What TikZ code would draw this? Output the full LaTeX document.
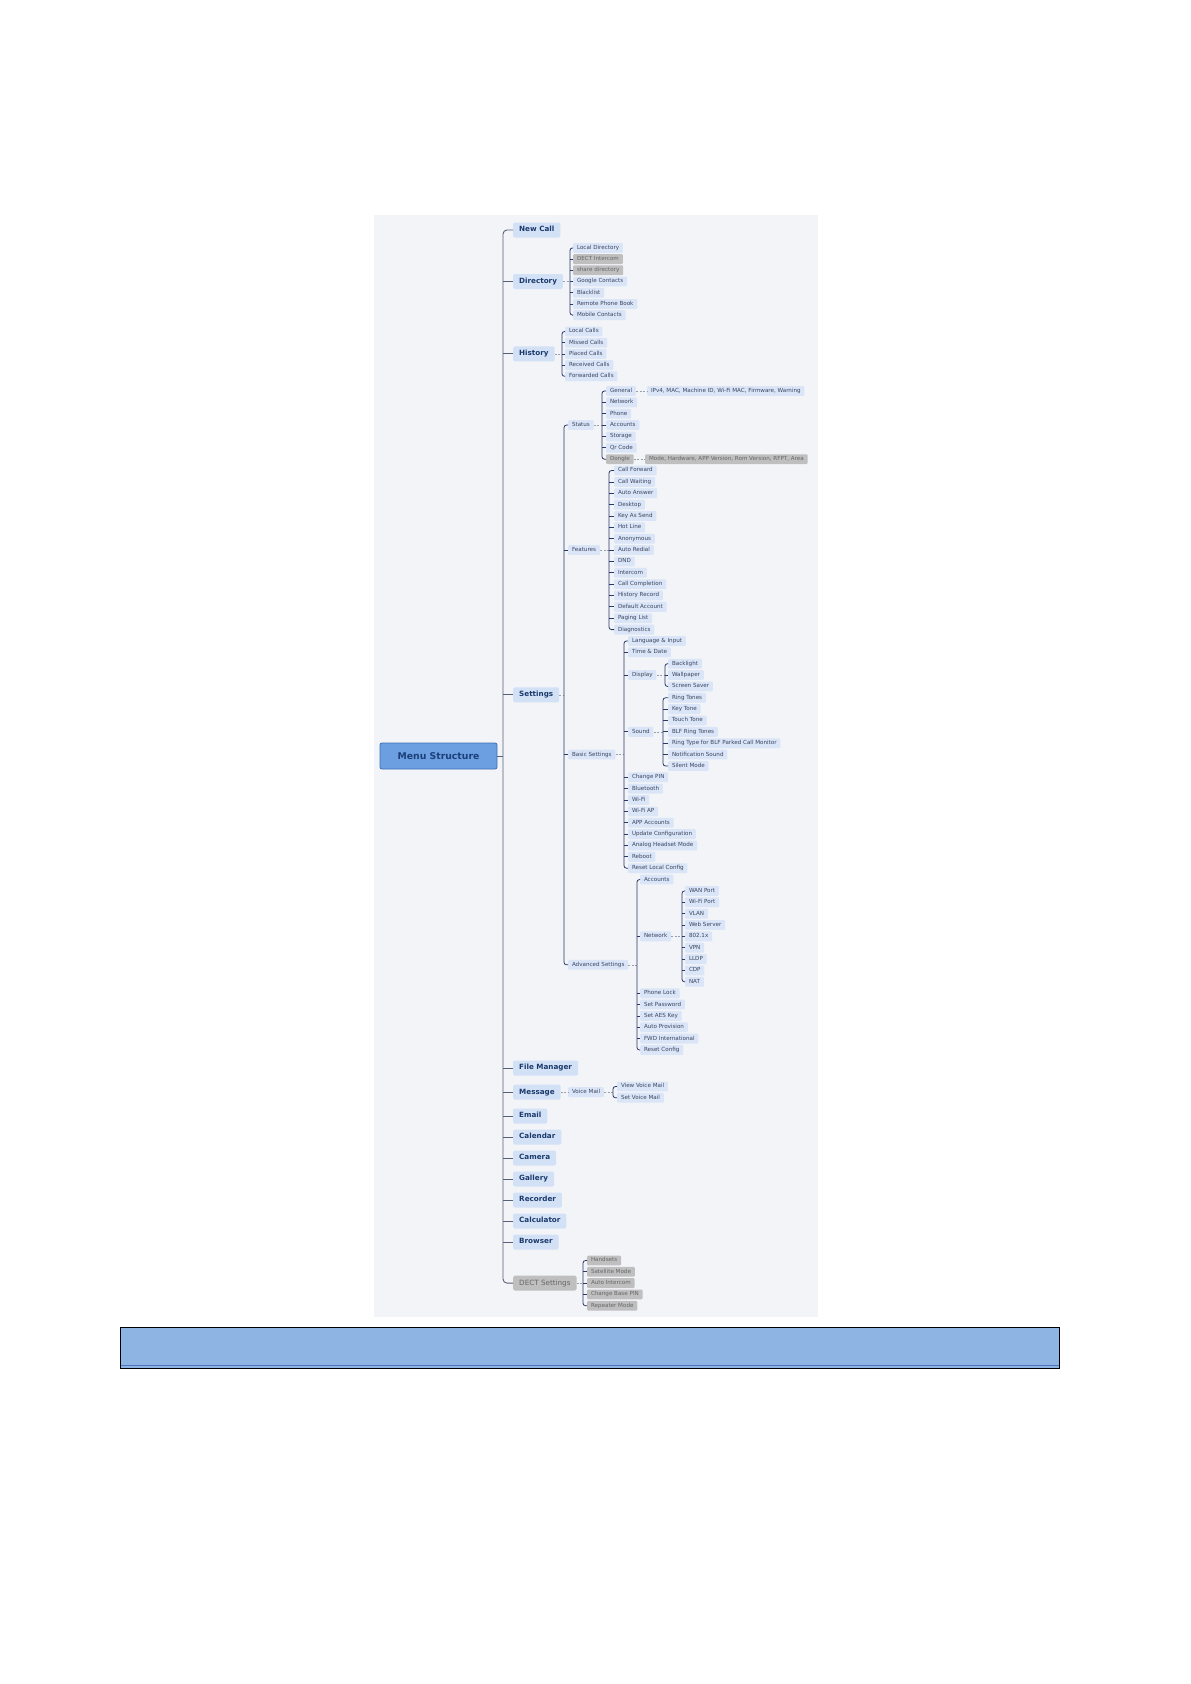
\documentclass[tikz,border=0pt]{standalone}
\usepackage{fontspec}
\setmainfont{DejaVu Sans}
\definecolor{panel}{HTML}{F2F4F8}
\definecolor{l1fill}{HTML}{D3E1F7}
\definecolor{l1text}{HTML}{1B3A6B}
\definecolor{l2fill}{HTML}{DAE5F8}
\definecolor{l2text}{HTML}{3A4560}
\definecolor{grfill}{HTML}{BFBFBF}
\definecolor{grtext}{HTML}{666666}
\definecolor{spinec}{HTML}{566078}
\definecolor{brkc}{HTML}{2B3768}
\definecolor{dashcol}{HTML}{98A0B0}
\definecolor{menufill}{HTML}{6B9FE2}
\definecolor{menudraw}{HTML}{3D6DB3}
\definecolor{menutext}{HTML}{1C3F78}
\definecolor{barfill}{HTML}{8DB4E2}
\definecolor{barline}{HTML}{4F75C0}
\newcommand{\R}[1]{379.638+11.362*#1}
% parent, bracket coordinate, first child, last child, middle children
\newcommand{\kids}[5]{%
  \draw[dashc] (#1.east) -- (#1.east -| #2);
  \draw[brk, rounded corners=2.5pt] (#3.west) -- (#3.west -| #2) -- (#4.west -| #2) -- (#4.west);
  \foreach \c in {#5} {\draw[brk] (\c.west -| #2) -- (\c.west);}
}
\begin{document}
\begin{tikzpicture}[x=1pt,y=-1pt,
  l1/.style={anchor=west, fill=l1fill, text=l1text, font=\fontsize{7.2}{8}\selectfont\bfseries, inner xsep=6pt, inner ysep=0pt, minimum height=15pt, text height=5.3pt, text depth=1.5pt, rounded corners=1.5pt},
  l1g/.style={l1, fill=grfill, text=grtext, font=\fontsize{7.2}{8}\selectfont},
  l2/.style={anchor=west, fill=l2fill, text=l2text, font=\fontsize{5.6}{6}\selectfont, inner xsep=3.8pt, inner ysep=0pt, minimum height=9.8pt, text height=4.1pt, text depth=1.2pt, rounded corners=1pt},
  gr/.style={l2, fill=grfill, text=grtext},
  spine/.style={draw=spinec, line width=0.9pt},
  brk/.style={draw=brkc, line width=0.8pt},
  dashc/.style={draw=dashcol, line width=0.6pt, dash pattern=on 2pt off 1.5pt}
]
\useasboundingbox (0,0) rectangle (1191,1684);
\fill[white] (0,0) rectangle (1191,1684);
\fill[panel] (374,215) rectangle (818,1317);

% bottom bar
\fill[barfill] (120,1327) rectangle (1059,1368);
\draw[barline, line width=1.5pt] (120,1365.5) -- (1059,1365.5);
\draw[black, line width=1pt] (120,1327) rectangle (1059,1368);

% bracket x positions
\coordinate (sp) at (503,0);
\coordinate (bDir) at (570,0);
\coordinate (bHist) at (562,0);
\coordinate (bSet) at (564,0);
\coordinate (bStat) at (602,0);
\coordinate (bFeat) at (609,0);
\coordinate (bBas) at (624,0);
\coordinate (bDisp) at (665,0);
\coordinate (bSnd) at (663,0);
\coordinate (bAdv) at (637,0);
\coordinate (bNet) at (682,0);
\coordinate (bVm) at (613,0);
\coordinate (bDect) at (583,0);

% root
\node[fill=menufill, draw=menudraw, line width=0.8pt, rounded corners=2pt, minimum width=117pt, minimum height=26pt, text=menutext, font=\fontsize{9.3}{10}\selectfont\bfseries] (menu) at (438.5,756) {Menu Structure};

% level 1
\node[l1] (newcall) at (513,230) {New Call};
\node[l1] (dir) at (513,281.5) {Directory};
\node[l1] (hist) at (513,353.9) {History};
\node[l1] (set) at (513,694.8) {Settings};
\node[l1] (fm) at (513,1068) {File Manager};
\node[l1] (msg) at (513,1092.1) {Message};
\node[l1] (email) at (513,1116) {Email};
\node[l1] (cal) at (513,1137) {Calendar};
\node[l1] (cam) at (513,1158) {Camera};
\node[l1] (gal) at (513,1179) {Gallery};
\node[l1] (rec) at (513,1200) {Recorder};
\node[l1] (calc) at (513,1221) {Calculator};
\node[l1] (brow) at (513,1242) {Browser};
\node[l1g] (dect) at (513,1283.1) {DECT Settings};

% directory
\node[l2] (d1) at (573,247.9) {Local Directory};
\node[gr] (d2) at (573,259.1) {DECT Intercom};
\node[gr] (d3) at (573,270.3) {share directory};
\node[l2] (d4) at (573,281.5) {Google Contacts};
\node[l2] (d5) at (573,292.7) {Blacklist};
\node[l2] (d6) at (573,303.9) {Remote Phone Book};
\node[l2] (d7) at (573,315.1) {Mobile Contacts};

% history
\node[l2] (h1) at (565,331.5) {Local Calls};
\node[l2] (h2) at (565,342.7) {Missed Calls};
\node[l2] (h3) at (565,353.9) {Placed Calls};
\node[l2] (h4) at (565,365.1) {Received Calls};
\node[l2] (h5) at (565,376.3) {Forwarded Calls};

% settings level 2
\node[l2] (stat) at (568,{\R{4}}) {Status};
\node[l2] (feat) at (568,{\R{15}}) {Features};
\node[l2] (bas) at (568,{\R{33}}) {Basic Settings};
\node[l2] (adv) at (568,964.8) {Advanced Settings};

% status
\node[l2] (s1) at (606,{\R{1}}) {General};
\node[l2] (s2) at (606,{\R{2}}) {Network};
\node[l2] (s3) at (606,{\R{3}}) {Phone};
\node[l2] (s4) at (606,{\R{4}}) {Accounts};
\node[l2] (s5) at (606,{\R{5}}) {Storage};
\node[l2] (s6) at (606,{\R{6}}) {Qr Code};
\node[gr] (s7) at (606,{\R{7}}) {Dongle};
\node[l2] (ginfo) at (647,{\R{1}}) {IPv4, MAC, Machine ID, Wi-Fi MAC, Firmware, Warning};
\node[gr] (dinfo) at (645,{\R{7}}) {Mode, Hardware, APP Version, Rom Version, RFPT, Area};

% features
\node[l2] (f1) at (614,{\R{8}}) {Call Forward};
\node[l2] (f2) at (614,{\R{9}}) {Call Waiting};
\node[l2] (f3) at (614,{\R{10}}) {Auto Answer};
\node[l2] (f4) at (614,{\R{11}}) {Desktop};
\node[l2] (f5) at (614,{\R{12}}) {Key As Send};
\node[l2] (f6) at (614,{\R{13}}) {Hot Line};
\node[l2] (f7) at (614,{\R{14}}) {Anonymous};
\node[l2] (f8) at (614,{\R{15}}) {Auto Redial};
\node[l2] (f9) at (614,{\R{16}}) {DND};
\node[l2] (f10) at (614,{\R{17}}) {Intercom};
\node[l2] (f11) at (614,{\R{18}}) {Call Completion};
\node[l2] (f12) at (614,{\R{19}}) {History Record};
\node[l2] (f13) at (614,{\R{20}}) {Default Account};
\node[l2] (f14) at (614,{\R{21}}) {Paging List};
\node[l2] (f15) at (614,{\R{22}}) {Diagnostics};

% basic settings
\node[l2] (b1) at (628,{\R{23}}) {Language \& Input};
\node[l2] (b2) at (628,{\R{24}}) {Time \& Date};
\node[l2] (b3) at (628,{\R{26}}) {Display};
\node[l2] (b4) at (628,{\R{31}}) {Sound};
\node[l2] (b5) at (628,{\R{35}}) {Change PIN};
\node[l2] (b6) at (628,{\R{36}}) {Bluetooth};
\node[l2] (b7) at (628,{\R{37}}) {Wi-Fi};
\node[l2] (b8) at (628,{\R{38}}) {Wi-Fi AP};
\node[l2] (b9) at (628,{\R{39}}) {APP Accounts};
\node[l2] (b10) at (628,{\R{40}}) {Update Configuration};
\node[l2] (b11) at (628,{\R{41}}) {Analog Headset Mode};
\node[l2] (b12) at (628,{\R{42}}) {Reboot};
\node[l2] (b13) at (628,{\R{43}}) {Reset Local Config};

\node[l2] (dp1) at (668,{\R{25}}) {Backlight};
\node[l2] (dp2) at (668,{\R{26}}) {Wallpaper};
\node[l2] (dp3) at (668,{\R{27}}) {Screen Saver};

\node[l2] (so1) at (668,{\R{28}}) {Ring Tones};
\node[l2] (so2) at (668,{\R{29}}) {Key Tone};
\node[l2] (so3) at (668,{\R{30}}) {Touch Tone};
\node[l2] (so4) at (668,{\R{31}}) {BLF Ring Tones};
\node[l2] (so5) at (668,{\R{32}}) {Ring Type for BLF Parked Call Monitor};
\node[l2] (so6) at (668,{\R{33}}) {Notification Sound};
\node[l2] (so7) at (668,{\R{34}}) {Silent Mode};

% advanced
\node[l2] (a1) at (640,{\R{44}}) {Accounts};
\node[l2] (a2) at (640,{\R{49}}) {Network};
\node[l2] (a3) at (640,{\R{54}}) {Phone Lock};
\node[l2] (a4) at (640,{\R{55}}) {Set Password};
\node[l2] (a5) at (640,{\R{56}}) {Set AES Key};
\node[l2] (a6) at (640,{\R{57}}) {Auto Provision};
\node[l2] (a7) at (640,{\R{58}}) {FWD International};
\node[l2] (a8) at (640,{\R{59}}) {Reset Config};

\node[l2] (n1) at (685,{\R{45}}) {WAN Port};
\node[l2] (n2) at (685,{\R{46}}) {Wi-Fi Port};
\node[l2] (n3) at (685,{\R{47}}) {VLAN};
\node[l2] (n4) at (685,{\R{48}}) {Web Server};
\node[l2] (n5) at (685,{\R{49}}) {802.1x};
\node[l2] (n6) at (685,{\R{50}}) {VPN};
\node[l2] (n7) at (685,{\R{51}}) {LLDP};
\node[l2] (n8) at (685,{\R{52}}) {CDP};
\node[l2] (n9) at (685,{\R{53}}) {NAT};

% message
\node[l2] (vm) at (568,1092.1) {Voice Mail};
\node[l2] (vm1) at (617,1086.5) {View Voice Mail};
\node[l2] (vm2) at (617,1097.8) {Set Voice Mail};

% DECT
\node[gr] (k1) at (587,1260.5) {Handsets};
\node[gr] (k2) at (587,1271.8) {Satellite Mode};
\node[gr] (k3) at (587,1283.1) {Auto Intercom};
\node[gr] (k4) at (587,1294.4) {Change Base PIN};
\node[gr] (k5) at (587,1305.7) {Repeater Mode};

% spine
\draw[spine, rounded corners=4pt] (newcall.west) -- (newcall.west -| sp) -- (dect.west -| sp) -- (dect.west);
\foreach \n in {dir,hist,set,fm,msg,email,cal,cam,gal,rec,calc,brow}
  \draw[spine] (\n.west -| sp) -- (\n.west);
\draw[spine] (menu.east) -- (menu.east -| sp);

% groups
\kids{dir}{bDir}{d1}{d7}{d2,d3,d4,d5,d6}
\kids{hist}{bHist}{h1}{h5}{h2,h3,h4}
\kids{set}{bSet}{stat}{adv}{feat,bas}
\kids{stat}{bStat}{s1}{s7}{s2,s3,s4,s5,s6}
\kids{feat}{bFeat}{f1}{f15}{f2,f3,f4,f5,f6,f7,f8,f9,f10,f11,f12,f13,f14}
\kids{bas}{bBas}{b1}{b13}{b2,b3,b4,b5,b6,b7,b8,b9,b10,b11,b12}
\kids{b3}{bDisp}{dp1}{dp3}{dp2}
\kids{b4}{bSnd}{so1}{so7}{so2,so3,so4,so5,so6}
\kids{adv}{bAdv}{a1}{a8}{a2,a3,a4,a5,a6,a7}
\kids{a2}{bNet}{n1}{n9}{n2,n3,n4,n5,n6,n7,n8}
\kids{dect}{bDect}{k1}{k5}{k2,k3,k4}

\draw[dashc] (s1.east) -- (ginfo.west);
\draw[dashc] (s7.east) -- (dinfo.west);
\draw[dashc] (msg.east) -- (vm.west);
\draw[dashc] (vm.east) -- (vm.east -| bVm);
\draw[brk, rounded corners=2.5pt] (vm1.west) -- (vm1.west -| bVm) -- (vm2.west -| bVm) -- (vm2.west);
\end{tikzpicture}
\end{document}
